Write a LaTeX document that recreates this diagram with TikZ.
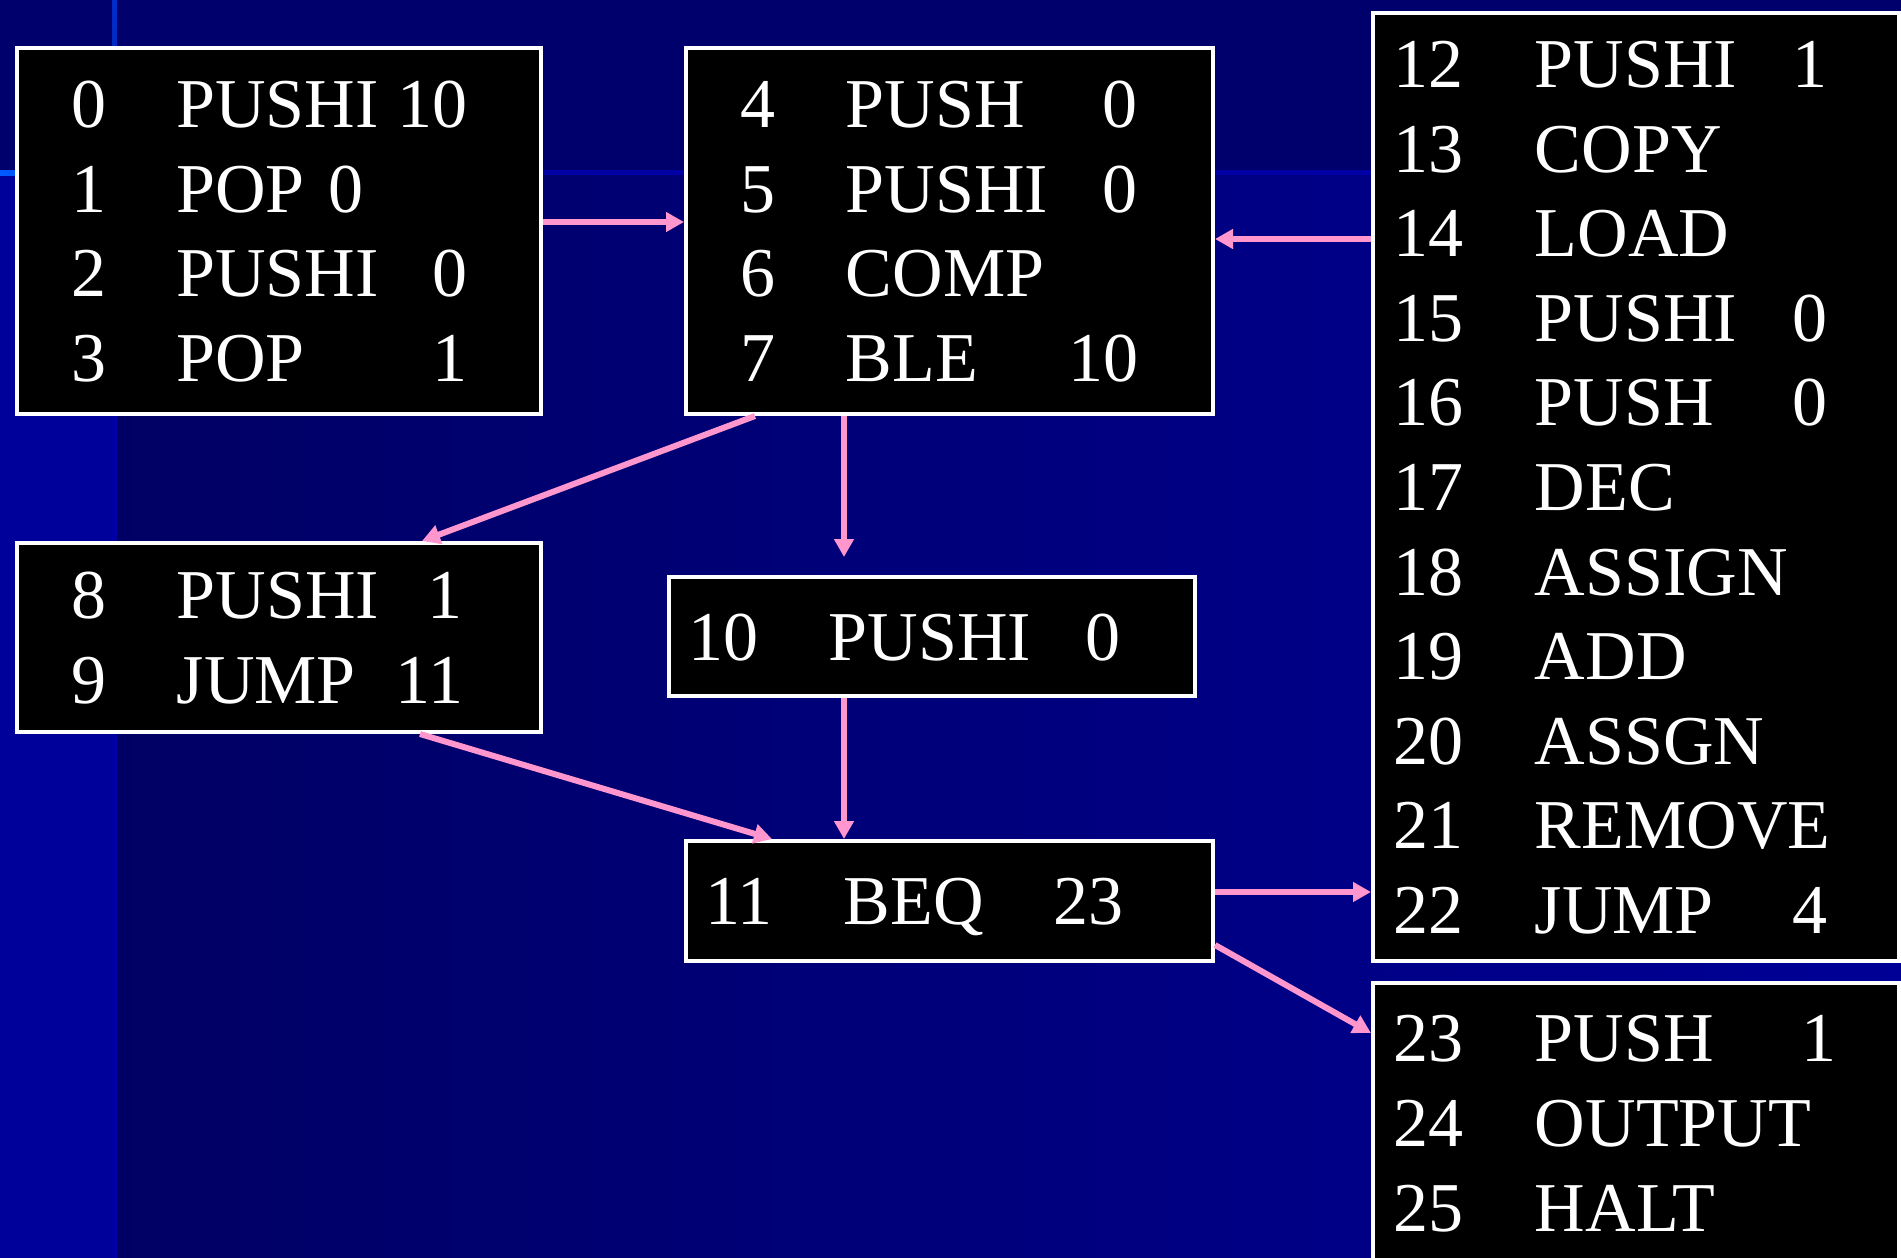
\documentclass[tikz,border=0pt]{standalone}
\usepackage{fontspec}
\setmainfont{Liberation Serif}
\usepackage{array}
\usetikzlibrary{arrows.meta}
\definecolor{slidetop}{RGB}{0, 0, 108}
\definecolor{slidedark}{RGB}{0, 0, 100}
\definecolor{slidelight}{RGB}{0, 0, 150}
\definecolor{slidestrip}{RGB}{0, 0, 154}
\definecolor{rulebright}{RGB}{0, 90, 255}
\definecolor{ruleblue}{RGB}{0, 45, 200}
\definecolor{ruledim}{RGB}{0, 0, 165}
\definecolor{flowpink}{RGB}{255, 150, 205}
\newcolumntype{I}[3]{@{}p{#1}@{}p{#2}@{}>{\raggedleft\arraybackslash}p{#3}@{}}
\newcommand{\longop}[1]{\makebox[0pt][l]{#1}}
\tikzset{
    codebox/.style={rectangle, draw=white, line width=4pt, fill=black, text=white,
                    anchor=north west, inner ysep=0pt, align=left, text height=47pt,
                    font=\fontsize{70}{84.6}\selectfont},
    flow/.style={-{Triangle[length=18pt, width=19pt]}, line width=6pt, flowpink},
}
\begin{document}
\begin{tikzpicture}[x=1pt, y=-1pt]
            \useasboundingbox (0,0) rectangle (1901,1258);
            % slide background
            \fill[slidetop] (0,0) rectangle (1901,172);
            \fill[left color=slidedark, right color=slidelight] (112,172) rectangle (1901,1258);
            \fill[slidestrip] (0,172) rectangle (112,1258);
            \fill[top color=ruleblue, bottom color=ruleblue!70!slidetop] (112,0) rectangle (117,172);
            \fill[ruledim] (112,172) rectangle (117,1258);
            \fill[left color=rulebright, right color=ruledim] (0,170) rectangle (420,175);
            \fill[ruledim] (420,170) rectangle (1901,175);
            % code blocks
            \node[codebox, inner xsep=54.5pt, text width=415.5pt, minimum height=366pt, text depth=253.8pt] (init) at (14.5,46)
                {\begin{tabular}[t]{I{105.5pt}{211.5pt}{80pt}}
                 0 & PUSHI & 10\\ 1 & POP 0 & \\ 2 & PUSHI & 0\\ 3 & POP & 1
                 \end{tabular}};
            \node[codebox, inner xsep=54pt, text width=419pt, minimum height=366pt, text depth=253.8pt] (cond) at (684,46)
                {\begin{tabular}[t]{I{106pt}{212pt}{80pt}}
                 4 & PUSH & 0\\ 5 & PUSHI & 0\\ 6 & COMP & \\ 7 & BLE & 10
                 \end{tabular}};
            \node[codebox, inner xsep=20pt, text width=486pt, minimum height=948pt, text depth=846pt] (body) at (1371,11)
                {\begin{tabular}[t]{I{142pt}{213pt}{80pt}}
                 12 & PUSHI & 1\\ 13 & COPY & \\ 14 & LOAD & \\ 15 & PUSHI & 0\\
                 16 & PUSH & 0\\ 17 & DEC & \\ 18 & \longop{ASSIGN} & \\ 19 & ADD & \\
                 20 & \longop{ASSGN} & \\ 21 & \longop{REMOVE} & \\ 22 & JUMP & 4
                 \end{tabular}};
            \node[codebox, inner xsep=54.5pt, text width=415.5pt, minimum height=189pt, text depth=84.6pt] (true) at (14.5,541)
                {\begin{tabular}[t]{I{106pt}{206pt}{80pt}}
                 8 & PUSHI & 1\\ 9 & JUMP & 11
                 \end{tabular}};
            \node[codebox, inner xsep=19pt, text width=488pt, minimum height=119pt, text depth=0pt] (false) at (667,575)
                {\begin{tabular}[t]{I{141pt}{212pt}{80pt}}
                 10 & PUSHI & 0
                 \end{tabular}};
            \node[codebox, inner xsep=19pt, text width=489pt, minimum height=120pt, text depth=0pt] (test) at (684,839)
                {\begin{tabular}[t]{I{139pt}{200pt}{80pt}}
                 11 & BEQ & 23
                 \end{tabular}};
            \node[codebox, inner xsep=20pt, text width=486pt, minimum height=280pt, text depth=169.2pt] (done) at (1371,981)
                {\begin{tabular}[t]{I{142pt}{222pt}{80pt}}
                 23 & PUSH & 1\\ 24 & \longop{OUTPUT} & \\ 25 & HALT &
                 \end{tabular}};
            % control flow
            \draw[flow] (init.east |- 0,222) -- (cond.west |- 0,222);
            \draw[flow] (body.west |- 0,239) -- (cond.east |- 0,239);
            \draw[flow] (cond.south -| 755,0) -- (true.north -| 422,0);
            \draw[flow, shorten >=18pt] (cond.south -| 844,0) -- (false.north -| 844,0);
            \draw[flow] (false.south -| 844,0) -- (test.north -| 844,0);
            \draw[flow] (true.south -| 420,0) -- (test.north -| 772,0);
            \draw[flow] (test.east |- 0,892) -- (body.west |- 0,892);
            \draw[flow] (test.east |- 0,945) -- (done.west |- 0,1033);
        \end{tikzpicture}
\end{document}
